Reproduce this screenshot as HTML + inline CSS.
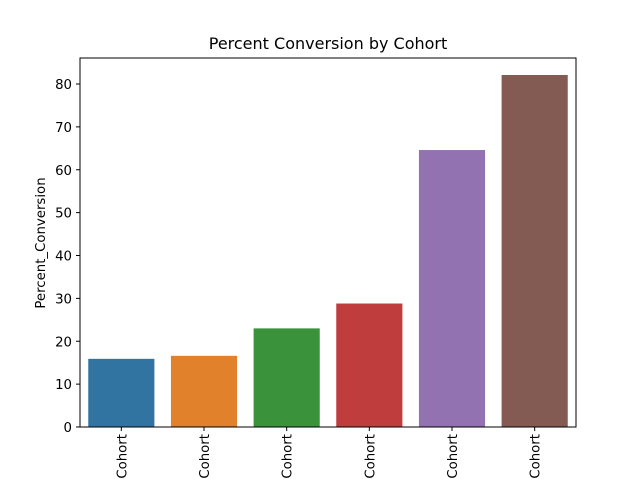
<!DOCTYPE html>
<html><head><meta charset="utf-8"><style>body{margin:0;background:#fff;overflow:hidden}svg{display:block;font-family:"DejaVu Sans","Liberation Sans",sans-serif}</style></head>
<body>
<svg id="chart" width="640" height="480">
<text x="328" y="49" text-anchor="middle" font-size="16">Percent Conversion by Cohort</text>
<text transform="translate(45,243) rotate(-90)" text-anchor="middle" font-size="13.3">Percent_Conversion</text>
<g id="bars"></g><g id="yticks"></g><g id="xticks"></g>
<rect x="80" y="58" width="496" height="369" fill="none" stroke="#000" stroke-width="1"/>
</svg>
<script>
const categories = ["Cohort","Cohort","Cohort","Cohort","Cohort","Cohort"];
const values = [15.9, 16.6, 23.0, 28.8, 64.6, 82.1];
const colors = ["#3274a1","#e1812c","#3a923a","#c03d3e","#9372b2","#845b53"];
const yTicks = [0,10,20,30,40,50,60,70,80];
const NS="http://www.w3.org/2000/svg";
const x0=80,x1=576,y0=427,pxPer=(427-84)/80;
const band=(x1-x0)/categories.length;
const y=v=>y0-v*pxPer;
const mk=(t,a,p)=>{const e=document.createElementNS(NS,t);for(const k in a)e.setAttribute(k,a[k]);p.appendChild(e);return e;};
const bars=document.getElementById('bars'),yt=document.getElementById('yticks'),xt=document.getElementById('xticks');
values.forEach((v,i)=>{
  const cx=x0+band*(i+0.5);
  const r=mk('rect',{x:cx-band*0.4,y:y(v),width:band*0.8,height:y0-y(v),fill:colors[i]},bars);
  
  
  const l=mk('line',{x1:cx,x2:cx,y1:y0,y2:y0+4,stroke:'#000'},xt);
  
  
  const t=mk('text',{transform:`translate(${cx+5},434) rotate(-90)`,'text-anchor':'end','font-size':13.3},xt);
  t.textContent=categories[i];
  
  
});
yTicks.forEach(v=>{
  const l=mk('line',{x1:76,x2:80,y1:y(v),y2:y(v),stroke:'#000'},yt);
  
  
  const t=mk('text',{x:72,y:y(v)+5,'text-anchor':'end','font-size':13.3},yt);
  t.textContent=v;
  
  
});
</script>
</body></html>
